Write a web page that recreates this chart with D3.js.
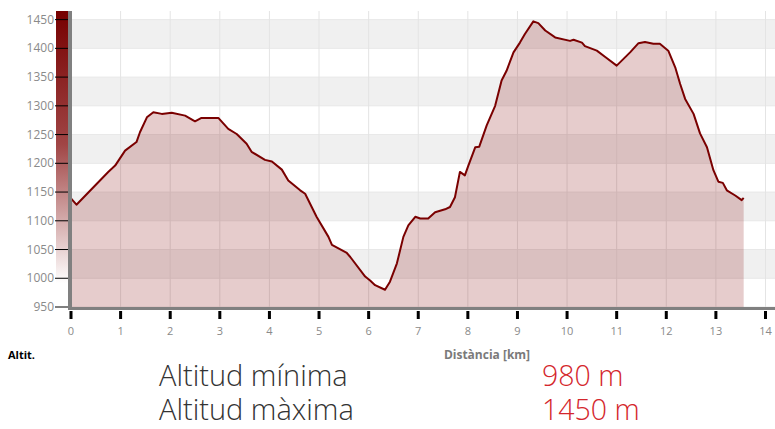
<!DOCTYPE html>
<html>
<head>
    <meta charset="utf-8">
    <title>Perfil</title>
    <script src="https://d3js.org/d3.v7.min.js"></script>
    <style>
        body { margin: 0; background: white; }
        svg text { font-family: "Open Sans", "DejaVu Sans", sans-serif; }
    </style>
</head>
<body>
<svg id="chart" width="775" height="429"></svg>
<script>
    // distance (km) and altitude (m)
    const dist = [0, 0.11, 0.75, 0.89, 1.09, 1.32, 1.39, 1.53, 1.66, 1.83, 2.03, 2.30, 2.50, 2.63, 2.97,
        3.17, 3.34, 3.54, 3.64, 3.91, 4.05, 4.25, 4.38, 4.62, 4.72, 4.95, 5.19, 5.26, 5.56, 5.63,
        5.93, 6.03, 6.13, 6.33, 6.43, 6.57, 6.70, 6.80, 6.94, 7.04, 7.20, 7.34, 7.54, 7.64, 7.74,
        7.84, 7.94, 8.01, 8.15, 8.23, 8.38, 8.55, 8.68, 8.78, 8.92, 9.05, 9.15, 9.32, 9.42, 9.56,
        9.76, 10.06, 10.13, 10.30, 10.36, 10.60, 10.77, 11.00, 11.27, 11.44, 11.57, 11.74, 11.87,
        12.04, 12.18, 12.28, 12.38, 12.55, 12.68, 12.82, 12.95, 13.05, 13.14, 13.22, 13.39, 13.52, 13.56];
    const altitude = [1139, 1128, 1185, 1196, 1222, 1237, 1254, 1280, 1289, 1286, 1288, 1283, 1273, 1279, 1279,
        1260, 1251, 1234, 1220, 1206, 1203, 1189, 1170, 1153, 1147, 1107, 1072, 1058, 1044, 1037,
        1003, 996, 988, 980, 994, 1026, 1072, 1092, 1107, 1104, 1104, 1115, 1120, 1124, 1141,
        1185, 1179, 1196, 1228, 1229, 1266, 1300, 1344, 1361, 1393, 1410, 1425, 1447, 1444, 1431,
        1419, 1413, 1415, 1410, 1404, 1396, 1385, 1370, 1393, 1409, 1411, 1408, 1408,
        1396, 1367, 1338, 1312, 1286, 1252, 1228, 1188, 1168, 1166, 1153, 1144, 1136, 1140];

    const yTicks = [950, 1000, 1050, 1100, 1150, 1200, 1250, 1300, 1350, 1400, 1450];
    const xTicks = d3.range(0, 15);
    const minAlt = "980 m";
    const maxAlt = "1450 m";

    const data = dist.map((d, i) => ({ km: d, alt: altitude[i] }));

    const svg = d3.select("#chart");
    const plotLeft = 71, plotRight = 775, plotTop = 11, plotBottom = 307;

    const x = d3.scaleLinear().domain([0, 14]).range([plotLeft, 765.5]);
    const y = d3.scaleLinear().domain([950, 1465]).range([plotBottom, plotTop]);

    // alternating bands
    for (let v = 950; v < 1450; v += 50) {
        const gray = ((v - 950) / 50) % 2 === 1;
        svg.append("rect")
            .attr("x", plotLeft).attr("width", plotRight - plotLeft)
            .attr("y", y(v + 50)).attr("height", y(v) - y(v + 50))
            .attr("fill", gray ? "#f0f0f0" : "#ffffff");
    }
    // band lines
    svg.append("g").selectAll("line")
        .data(yTicks)
        .join("line")
        .attr("x1", plotLeft).attr("x2", plotRight)
        .attr("y1", d => y(d)).attr("y2", d => y(d))
        .attr("stroke", "#e8e8e8");

    // vertical grid
    svg.append("g").selectAll("line")
        .data(xTicks.slice(1))
        .join("line")
        .attr("x1", d => x(d)).attr("x2", d => x(d))
        .attr("y1", plotTop).attr("y2", plotBottom)
        .attr("stroke", "#e4e4e4");

    const area = d3.area()
        .x(d => x(d.km))
        .y0(y(950))
        .y1(d => y(d.alt));
    svg.append("path")
        .datum(data)
        .attr("d", area)
        .attr("fill", "#800000")
        .attr("fill-opacity", 0.2);

    const line = d3.line()
        .x(d => x(d.km))
        .y(d => y(d.alt));
    svg.append("path")
        .datum(data)
        .attr("d", line)
        .attr("fill", "none")
        .attr("stroke", "#7a0000")
        .attr("stroke-width", 2)
        .attr("stroke-linejoin", "round");

    // gradient bar on the y axis
    const grad = svg.append("defs").append("linearGradient")
        .attr("id", "altGrad")
        .attr("x1", 0).attr("y1", 0).attr("x2", 0).attr("y2", 1);
    grad.append("stop").attr("offset", "0%").attr("stop-color", "#760000");
    grad.append("stop").attr("offset", "45%").attr("stop-color", "#a04545");
    grad.append("stop").attr("offset", "92%").attr("stop-color", "#ffffff");
    svg.append("rect")
        .attr("x", 56).attr("y", plotTop)
        .attr("width", 12).attr("height", plotBottom - plotTop)
        .attr("fill", "url(#altGrad)");

    // axis lines
    svg.append("rect")
        .attr("x", 68).attr("y", plotTop).attr("width", 4).attr("height", plotBottom - plotTop + 3)
        .attr("fill", "#808080");
    svg.append("rect")
        .attr("x", 68).attr("y", plotBottom).attr("width", plotRight - 68).attr("height", 3)
        .attr("fill", "#808080");

    // y ticks and labels
    const yg = svg.append("g");
    yg.selectAll("line")
        .data(yTicks)
        .join("line")
        .attr("x1", 55).attr("x2", 68)
        .attr("y1", d => y(d)).attr("y2", d => y(d))
        .attr("stroke", "#000");
    yg.selectAll("text")
        .data(yTicks)
        .join("text")
        .attr("x", 54).attr("y", d => y(d) + 4)
        .attr("text-anchor", "end")
        .attr("font-size", 12)
        .attr("fill", "#8a8a8a")
        .text(d => d);

    // x ticks and labels
    const xg = svg.append("g");
    xg.selectAll("rect")
        .data(xTicks)
        .join("rect")
        .attr("x", d => x(d) - 1.5).attr("y", 311)
        .attr("width", 3).attr("height", 8)
        .attr("fill", "#000");
    xg.selectAll("text")
        .data(xTicks)
        .join("text")
        .attr("x", d => x(d)).attr("y", 335)
        .attr("text-anchor", "middle")
        .attr("font-size", 11)
        .attr("fill", "#8a8a8a")
        .text(d => d);

    svg.append("text")
        .attr("x", 8).attr("y", 359)
        .attr("font-size", 11).attr("font-weight", "bold")
        .attr("fill", "#000")
        .text("Altit.");
    svg.append("text")
        .attr("x", 487).attr("y", 359)
        .attr("text-anchor", "middle")
        .attr("font-size", 12).attr("font-weight", "bold")
        .attr("fill", "#7a7a7a")
        .text("Distància [km]");

    const labels = [["Altitud mínima", minAlt, 386], ["Altitud màxima", maxAlt, 420]];
    labels.forEach(l => {
        svg.append("text")
            .attr("x", 159).attr("y", l[2])
            .attr("font-size", 29).attr("font-weight", 300)
            .attr("fill", "#333")
            .text(l[0]);
        svg.append("text")
            .attr("x", 542).attr("y", l[2])
            .attr("font-size", 28.5).attr("font-weight", 300)
            .attr("fill", "#d4262c")
            .text(l[1]);
    });
</script>
</body>
</html>
